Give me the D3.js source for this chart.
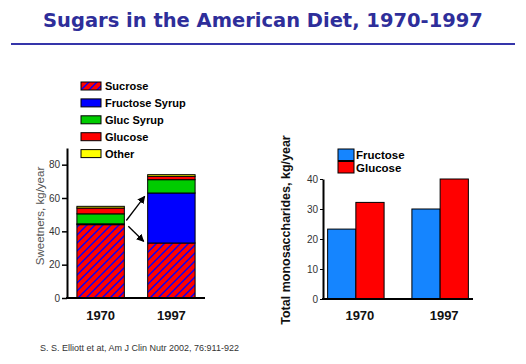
<!DOCTYPE html>
<html lang="en">
<head>
    <meta charset="UTF-8">
    <title>Sugars in the American Diet</title>
    <script src="https://cdn.jsdelivr.net/npm/d3@7"></script>
    <style>
        body { margin: 0; background: #fff; }
        text { font-family: "Liberation Sans", Arial, sans-serif; }
    </style>
</head>
<body>
<div id="container"></div>
<script>
    // data
    const years = ["1970", "1997"];
    const sweetenerKeys = ["Sucrose", "Fructose Syrup", "Gluc Syrup", "Glucose", "Other"];
    const sucrose = [44, 33];
    const fructoseSyrup = [0.5, 30];
    const glucSyrup = [6, 8];
    const glucose = [3.5, 2];
    const other = [1, 1];
    const sweetenerTicks = [0, 20, 40, 60, 80];
    // arrows from 1970 bar to 1997 bar (values in kg/year)
    const arrowFrom = [46.5, 43];
    const arrowTo = [61, 34];

    const monoKeys = ["Fructose", "Glucose"];
    const fructoseMono = [23.3, 30];
    const glucoseMono = [32.2, 40];
    const monoTicks = [0, 10, 20, 30, 40];

    const sweetColors = ["url(#hatch)", "#0000ff", "#00cc00", "#ff0000", "#ffff00"];
    const monoColors = ["#1585ff", "#ff0000"];

    const svg = d3.select("#container").append("svg")
        .attr("width", 526)
        .attr("height", 364);

    // hatch for sucrose
    const defs = svg.append("defs");
    const pat = defs.append("pattern")
        .attr("id", "hatch")
        .attr("patternUnits", "userSpaceOnUse")
        .attr("width", 8).attr("height", 8);
    pat.append("rect").attr("width", 8).attr("height", 8).attr("fill", "#ff0000");
    pat.append("path")
        .attr("d", "M0,8 L8,0 M-2,2 L2,-2 M6,10 L10,6")
        .attr("stroke", "#0000ff").attr("stroke-width", 1.4);
    defs.append("marker")
        .attr("id", "arrow")
        .attr("viewBox", "0 0 10 10")
        .attr("refX", 9).attr("refY", 5)
        .attr("markerWidth", 6).attr("markerHeight", 6)
        .attr("orient", "auto")
        .append("path").attr("d", "M0,0 L10,5 L0,10 z").attr("fill", "#000");

    // title
    const title = svg.append("text")
        .attr("x", 263).attr("y", 27)
        .attr("text-anchor", "middle")
        .style("font-family", "'DejaVu Sans', Verdana, sans-serif")
        .style("font-weight", "bold")
        .style("font-size", "20px")
        .attr("fill", "#2e2e9a")
        .text("Sugars in the American Diet, 1970-1997");
    const tw = title.node().getComputedTextLength();
    title.style("font-size", (20 * 440 / tw) + "px");

    svg.append("line")
        .attr("x1", 11).attr("x2", 515).attr("y1", 44).attr("y2", 44)
        .attr("stroke", "#3535aa").attr("stroke-width", 2);

    // ---------- left chart ----------
    const xL = d3.scaleBand().domain(years).range([67, 205])
        .paddingInner(0.33).paddingOuter(0.14);
    const yL = d3.scaleLinear().domain([0, 90]).range([298, 148]);

    const rows = years.map((y, i) => ({
        year: y,
        "Sucrose": sucrose[i],
        "Fructose Syrup": fructoseSyrup[i],
        "Gluc Syrup": glucSyrup[i],
        "Glucose": glucose[i],
        "Other": other[i]
    }));
    const stacked = d3.stack().keys(sweetenerKeys)(rows);

    const left = svg.append("g");
    left.selectAll("g.layer")
        .data(stacked)
        .enter().append("g")
        .attr("fill", (d, i) => sweetColors[i])
        .selectAll("rect")
        .data(d => d)
        .enter().append("rect")
        .attr("x", d => xL(d.data.year))
        .attr("width", xL.bandwidth())
        .attr("y", d => yL(d[1]))
        .attr("height", d => yL(d[0]) - yL(d[1]))
        .attr("stroke", "#000")
        .attr("stroke-width", 1);

    // arrows
    left.selectAll("line.arrow")
        .data(arrowFrom)
        .enter().append("line")
        .attr("x1", (d, i) => xL("1970") + xL.bandwidth() + 2 + i * 2)
        .attr("y1", d => yL(d))
        .attr("x2", (d, i) => xL("1997") - 3 - i)
        .attr("y2", (d, i) => yL(arrowTo[i]))
        .attr("stroke", "#000").attr("stroke-width", 1.3)
        .attr("marker-end", "url(#arrow)");

    const yAxisL = left.append("g")
        .attr("transform", "translate(67,0)")
        .call(d3.axisLeft(yL).tickValues(sweetenerTicks).tickSize(5).tickSizeOuter(0));
    yAxisL.select(".domain").attr("stroke-width", 2);
    yAxisL.selectAll(".tick line").attr("stroke-width", 1.5);
    yAxisL.selectAll(".tick text")
        .style("font-size", "10px").attr("fill", "#333").attr("x", -7);

    const xAxisL = left.append("g")
        .attr("transform", "translate(0,298)")
        .call(d3.axisBottom(xL).tickSize(0).tickSizeOuter(0));
    xAxisL.select(".domain").attr("stroke-width", 2).attr("d", "M66,0H205");
    xAxisL.selectAll(".tick text")
        .attr("dy", 0).attr("y", 22)
        .style("font-size", "13px").style("font-weight", "bold").attr("fill", "#111");

    left.append("text")
        .attr("transform", "translate(44,216) rotate(-90)")
        .attr("text-anchor", "middle")
        .style("font-size", "11.5px")
        .attr("fill", "#555")
        .text("Sweetners, kg/year");

    // left legend
    const legL = left.selectAll("g.leg")
        .data(sweetenerKeys)
        .enter().append("g")
        .attr("transform", (d, i) => `translate(81,${82 + i * 16.9})`);
    legL.append("rect")
        .attr("width", 20).attr("height", 8)
        .attr("fill", (d, i) => sweetColors[i])
        .attr("stroke", "#000").attr("stroke-width", 1);
    legL.append("text")
        .attr("x", 24).attr("y", 8)
        .style("font-size", "11px").style("font-weight", "bold")
        .attr("fill", "#000")
        .text(d => d);

    // ---------- right chart ----------
    const x0 = d3.scaleBand().domain(years).range([323, 473])
        .paddingInner(0.33).paddingOuter(0.055);
    const x1 = d3.scaleBand().domain(monoKeys).range([0, x0.bandwidth()]);
    const yR = d3.scaleLinear().domain([0, 40]).range([299, 179]);

    const monoRows = years.map((y, i) => ({year: y, values: [fructoseMono[i], glucoseMono[i]]}));

    const right = svg.append("g");
    right.selectAll("g.grp")
        .data(monoRows)
        .enter().append("g")
        .attr("transform", d => `translate(${x0(d.year)},0)`)
        .selectAll("rect")
        .data(d => d.values.map((v, j) => ({key: monoKeys[j], value: v, j: j})))
        .enter().append("rect")
        .attr("x", d => x1(d.key))
        .attr("width", x1.bandwidth())
        .attr("y", d => yR(d.value))
        .attr("height", d => yR(0) - yR(d.value))
        .attr("fill", d => monoColors[d.j])
        .attr("stroke", "#000").attr("stroke-width", 1);

    const yAxisR = right.append("g")
        .attr("transform", "translate(323,0)")
        .call(d3.axisLeft(yR).tickValues(monoTicks).tickSize(3).tickSizeOuter(0));
    yAxisR.select(".domain").attr("stroke-width", 2);
    yAxisR.selectAll(".tick text")
        .style("font-size", "10px").attr("fill", "#333").attr("x", -5);

    const xAxisR = right.append("g")
        .attr("transform", "translate(0,299)")
        .call(d3.axisBottom(x0).tickSize(0).tickSizeOuter(0));
    xAxisR.select(".domain").attr("stroke-width", 2).attr("d", "M322,0H473");
    xAxisR.selectAll(".tick text")
        .attr("dy", 0).attr("y", 21).attr("x", 4)
        .style("font-size", "13px").style("font-weight", "bold").attr("fill", "#111");

    right.append("text")
        .attr("transform", "translate(290,230) rotate(-90)")
        .attr("text-anchor", "middle")
        .style("font-size", "12.5px").style("font-weight", "bold")
        .attr("fill", "#111")
        .text("Total monosaccharides, kg/year");

    const legR = right.selectAll("g.legr")
        .data(monoKeys)
        .enter().append("g")
        .attr("transform", (d, i) => `translate(338,${149 + i * 12.5})`);
    legR.append("rect")
        .attr("width", 16).attr("height", 11.5)
        .attr("fill", (d, i) => monoColors[i])
        .attr("stroke", "#000").attr("stroke-width", 1);
    legR.append("text")
        .attr("x", 18).attr("y", 10)
        .style("font-size", "11.5px").style("font-weight", "bold")
        .attr("fill", "#000")
        .text(d => d);

    // citation
    svg.append("text")
        .attr("x", 40).attr("y", 351)
        .style("font-size", "9px")
        .attr("fill", "#333")
        .text("S. S. Elliott et at, Am J Clin Nutr 2002, 76:911-922");
</script>
</body>
</html>
